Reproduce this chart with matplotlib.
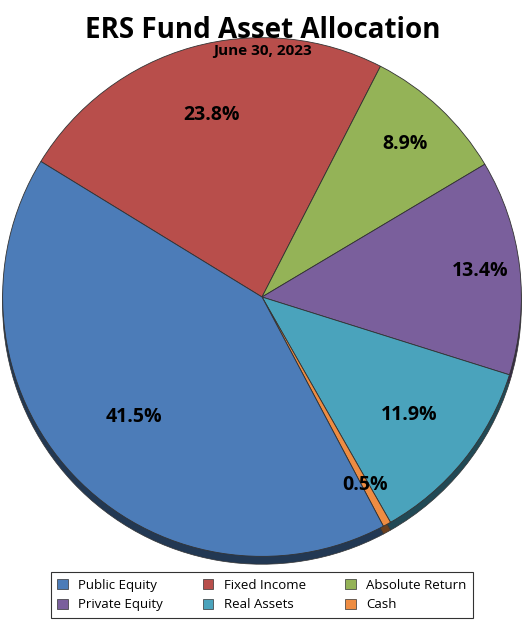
import matplotlib.pyplot as plt
import numpy as np
from matplotlib.colors import to_rgb

plt.rcParams['font.family'] = ['Open Sans', 'DejaVu Sans']

categories = ["Fixed Income", "Absolute Return", "Private Equity", "Real Assets", "Cash", "Public Equity"]
values = [23.8, 8.9, 13.4, 11.9, 0.5, 41.5]
colors = ["#B84E4B", "#94B357", "#7A5F9C", "#4AA3BC", "#EE8C42", "#4C7CB8"]
legend_order = ["Public Equity", "Fixed Income", "Absolute Return", "Private Equity", "Real Assets", "Cash"]
label_dist = [0.72, 0.80, 0.84, 0.72, 0.82, 0.67]

fig = plt.figure(figsize=(5.26, 6.3), dpi=100)
ax = fig.add_axes([0, 71 / 630, 524 / 526, 524 / 630])
ax.set_aspect('equal')
ax.axis('off')

dark = [tuple(c * 0.45 for c in to_rgb(col)) for col in colors]
R = 0.99
start = 148.5
# 3D side
ax.pie(values, colors=dark, startangle=start, counterclock=False, radius=R,
       center=(0, -0.03), wedgeprops=dict(edgecolor='#333333', linewidth=0.5))
wedges, texts, autot = ax.pie(values, colors=colors, startangle=start, counterclock=False, radius=R,
                              autopct='%1.1f%%',
                              wedgeprops=dict(edgecolor='#333333', linewidth=0.6),
                              textprops=dict(fontsize=14, fontweight='bold', color='black'))
ax.set_xlim(-1, 1)
ax.set_ylim(-1, 1)

cum = 0
for v, t, d in zip(values, autot, label_dist):
    mid = np.radians(start - (cum + v / 2) * 3.6)
    t.set_position((d * np.cos(mid), d * np.sin(mid)))
    cum += v

fig.text(0.5, 0.975, "ERS Fund Asset Allocation", ha='center', va='top', fontsize=20, fontweight='bold')
fig.text(0.5, 0.93, "June 30, 2023", ha='center', va='top', fontsize=11, fontweight='bold')

# legend is filled column by column, so reorder to read row by row
order = [legend_order[i] for i in [0, 3, 1, 4, 2, 5]]
handles = [plt.Rectangle((0, 0), 1, 1, facecolor=colors[categories.index(c)], edgecolor='#333333', linewidth=0.5)
           for c in order]
leg = fig.legend(handles, order, loc='center', bbox_to_anchor=(262 / 526, 1 - 595 / 630), ncol=3,
                 fontsize=9.5, frameon=True, fancybox=False, edgecolor='black', handlelength=0.8,
                 handleheight=0.8, columnspacing=3.0, borderpad=0.5, labelspacing=0.5)
leg.get_frame().set_linewidth(0.8)

fig.savefig("out.png", dpi=100)
